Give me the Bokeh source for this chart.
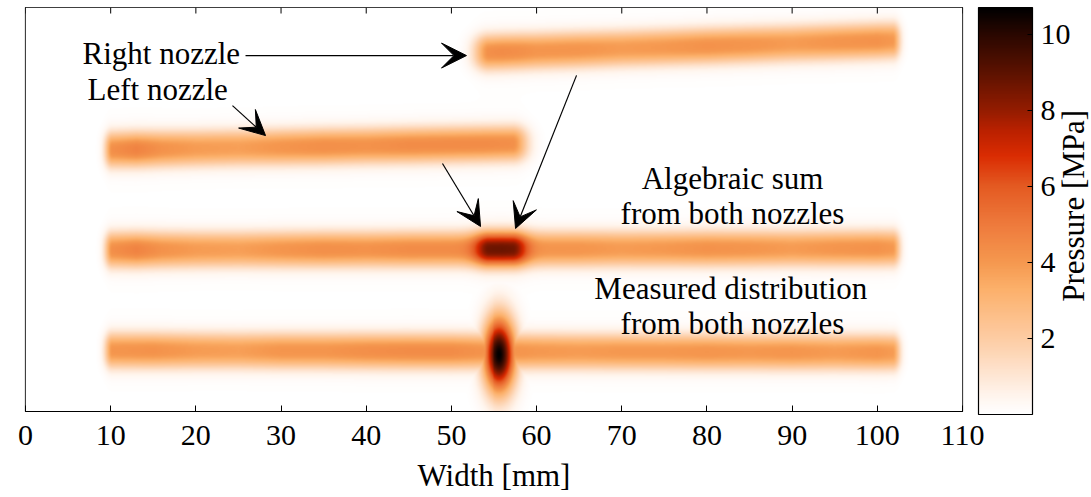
import numpy as np
from bokeh.plotting import figure
from bokeh.layouts import row
from bokeh.models import (LinearColorMapper, ColorBar, FixedTicker, Label, Arrow, VeeHead, Range1d)
from bokeh.embed import file_html
from bokeh.resources import INLINE

# ---------------- data ----------------
x_ticks = [0, 10, 20, 30, 40, 50, 60, 70, 80, 90, 100, 110]
cbar_ticks = [2, 4, 6, 8, 10]
p_min, p_max = 0.0, 10.7

# Right nozzle alone (position along width [mm], peak pressure [MPa])
right_x = [54.4, 56, 58, 60, 65, 70, 75, 80, 85, 90, 95, 100, 101.8]
right_p = [4.3, 4.4, 4.3, 4.1, 4.1, 3.9, 4.0, 4.2, 4.1, 3.9, 4.1, 4.2, 4.0]
right_row = [8.89, 9.18]          # vertical position of the stripe (start, end)

# Left nozzle alone
left_x = [10.2, 13, 16, 20, 25, 30, 35, 40, 45, 50, 54, 57.2]
left_p = [4.3, 4.7, 4.2, 3.9, 3.8, 4.1, 4.3, 4.2, 4.4, 4.4, 4.4, 4.3]
left_row = [6.48, 6.63]

# Algebraic sum of both nozzles (row position only; values = left + right)
sum_row = [4.00, 4.04]

# Measured distribution from both nozzles
meas_x = [10.2, 15, 20, 25, 30, 35, 40, 45, 50, 53, 58, 60, 65, 70, 75, 80, 85, 90, 95, 100, 101.8]
meas_p = [4.1, 4.2, 3.9, 3.8, 4.1, 4.1, 4.3, 4.4, 4.4, 4.2, 4.1, 4.0, 3.9, 4.0, 4.0, 4.1, 4.0, 4.1, 3.9, 4.1, 3.9]
meas_row = [1.51, 1.46]
peak_x, peak_row, peak_p = 55.65, 1.41, 10.7
peak_wx, peak_wy = 1.85, 0.90

# colour map of the figure
cmap_v = [0, 0.5, 1, 2, 3.3, 4, 5, 6, 6.8, 7.5, 8, 9, 10, 10.7]
cmap_c = ["#ffffff", "#fff4ec", "#fee6d3", "#fdcca3", "#fcb06a", "#f5984f", "#ee7a3c",
          "#e45a22", "#da2c02", "#b82000", "#941c00", "#5c1200", "#2a0700", "#000000"]

# ---------------- rendering helpers ----------------
def hex2rgb(h):
    return [int(h[i:i + 2], 16) for i in (1, 3, 5)]

rgb = np.array([hex2rgb(c) for c in cmap_c], dtype=float)
lv = np.linspace(p_min, p_max, 256)
palette = ["#%02x%02x%02x" % tuple(int(round(np.interp(v, cmap_v, rgb[:, k]))) for k in range(3))
           for v in lv]

NX, NY = 938, 404
XW, YH = 110.0, 10.0
xs = (np.arange(NX) + 0.5) * XW / NX
ys = (np.arange(NY) + 0.5) * YH / NY
HALF = 0.42       # stripe half-thickness (rows)
FADE_OUT = 0.9    # softness of the outer stripe ends (mm)
FADE_IN = 1.8     # softness of the inner (overlapping) stripe ends (mm)

def envelope(x, x0, x1, f0, f1):
    e = np.ones_like(x)
    lo, hi = x < x0, x > x1
    e[lo] = np.exp(-((x0 - x[lo]) / f0) ** 2)
    e[hi] = np.exp(-((x[hi] - x1) / f1) ** 2)
    return e

def amp(bx, bp, f0, f1):
    return np.interp(xs, bx, bp) * envelope(xs, bx[0], bx[-1], f0, f1)

def stripe(a, x0, x1, row_pos):
    c = np.interp(xs, [x0, x1], row_pos)
    d = ys[:, None] - c[None, :]
    return a[None, :] * (0.92 * np.exp(-np.abs(d / HALF) ** 2.5) + 0.08 * np.exp(-(d / 0.7) ** 2))

a_right = amp(right_x, right_p, FADE_IN, FADE_OUT)
a_left = amp(left_x, left_p, FADE_OUT, FADE_IN)
a_meas = amp(meas_x, meas_p, FADE_OUT, FADE_OUT)

img = stripe(a_right, right_x[0], right_x[-1], right_row)
img += stripe(a_left, left_x[0], left_x[-1], left_row)
img += stripe(a_left + a_right, left_x[0], right_x[-1], sum_row)
img += stripe(a_meas, meas_x[0], meas_x[-1], meas_row)
X, Y = np.meshgrid(xs, ys)
spot = peak_p * np.exp(-((X - peak_x) / peak_wx) ** 2 - ((Y - peak_row) / peak_wy) ** 2)
img = np.clip(np.maximum(img, spot), p_min, p_max).astype(np.float32)

# ---------------- figure ----------------
SERIF = "'Liberation Serif', serif"
H = 496
TOP, BOTTOM = 7, 85
mapper = LinearColorMapper(palette=palette, low=p_min, high=p_max)

p = figure(width=1078, height=H, x_range=Range1d(0, XW), y_range=Range1d(0, YH),
           output_backend="svg", toolbar_location=None, y_axis_location=None,
           min_border_left=25, min_border_right=116, min_border_top=TOP, min_border_bottom=BOTTOM)
p.background_fill_color = "white"
p.border_fill_color = "white"
p.outline_line_color = "black"
p.outline_line_width = 1.2
p.xgrid.visible = False
p.ygrid.visible = False

p.image(image=[img], x=0, y=0, dw=XW, dh=YH, color_mapper=mapper)
# mirrored inward ticks on the top edge
p.ray(x=x_ticks, y=[YH] * len(x_ticks), length=6, length_units="screen",
      angle=-np.pi / 2, line_color="black", line_width=1)

ax = p.xaxis[0]
ax.ticker = FixedTicker(ticks=x_ticks)
ax.major_label_text_font = SERIF
ax.major_label_text_font_size = "30px"
ax.major_label_text_color = "black"
ax.major_tick_in = 6
ax.major_tick_out = 0
ax.minor_tick_in = 0
ax.minor_tick_out = 0
ax.major_label_standoff = 14
ax.axis_line_color = "black"
ax.major_tick_line_color = "black"
ax.axis_label = "Width [mm]"
ax.axis_label_text_font = SERIF
ax.axis_label_text_font_size = "31px"
ax.axis_label_text_font_style = "normal"
ax.axis_label_text_color = "black"
ax.axis_label_standoff = 10

cb = ColorBar(color_mapper=mapper, ticker=FixedTicker(ticks=cbar_ticks), width=54, height=407,
              location=(16, -3), padding=0, margin=0, bar_line_color="black", bar_line_width=1.2,
              major_tick_in=5, major_tick_line_color="black", major_label_text_font=SERIF,
              major_label_text_font_size="30px", major_label_text_color="black",
              label_standoff=8, border_line_color=None, background_fill_color=None)
p.add_layout(cb, "right")

font = dict(text_font=SERIF, text_font_size="31px", text_color="black")
p.add_layout(Label(x=6.69, y=8.86, text="Right nozzle", text_align="left", text_baseline="middle", **font))
p.add_layout(Label(x=7.28, y=7.97, text="Left nozzle", text_align="left", text_baseline="middle", **font))
p.add_layout(Label(x=83.0, y=5.77, text="Algebraic sum", text_align="center", text_baseline="middle", **font))
p.add_layout(Label(x=83.0, y=4.90, text="from both nozzles", text_align="center", text_baseline="middle", **font))
p.add_layout(Label(x=82.8, y=3.04, text="Measured distribution", text_align="center", text_baseline="middle", **font))
p.add_layout(Label(x=83.0, y=2.18, text="from both nozzles", text_align="center", text_baseline="middle", **font))

arrow_x0 = [25.83, 24.30, 48.95, 64.69]
arrow_y0 = [8.81, 7.57, 6.14, 8.32]
arrow_x1 = [51.77, 28.18, 53.42, 57.53]
arrow_y1 = [8.81, 6.83, 4.58, 4.53]
for x0, y0, x1, y1 in zip(arrow_x0, arrow_y0, arrow_x1, arrow_y1):
    p.add_layout(Arrow(end=VeeHead(size=25, fill_color="black", line_color="black"),
                       x_start=x0, y_start=y0, x_end=x1, y_end=y1,
                       line_color="black", line_width=1.2))

# narrow transparent strip carrying the colour-bar title (overlaps the colour-bar area)
QW = 41
q = figure(width=QW, height=H, x_range=Range1d(0, QW), y_range=Range1d(0, YH),
           output_backend="svg", toolbar_location=None, x_axis_location=None, y_axis_location=None,
           min_border_left=0, min_border_right=0, min_border_top=TOP, min_border_bottom=BOTTOM)
q.outline_line_color = None
q.background_fill_color = None
q.border_fill_color = None
q.xgrid.visible = False
q.ygrid.visible = False
q.margin = (0, 0, 0, -28)
q.add_layout(Label(x=22.5, y=5.09, text="Pressure [MPa]", angle=np.pi / 2, text_align="center",
                   text_baseline="middle", **font))

layout = row(p, q)
open("out.html", "w").write(file_html(layout, INLINE))
